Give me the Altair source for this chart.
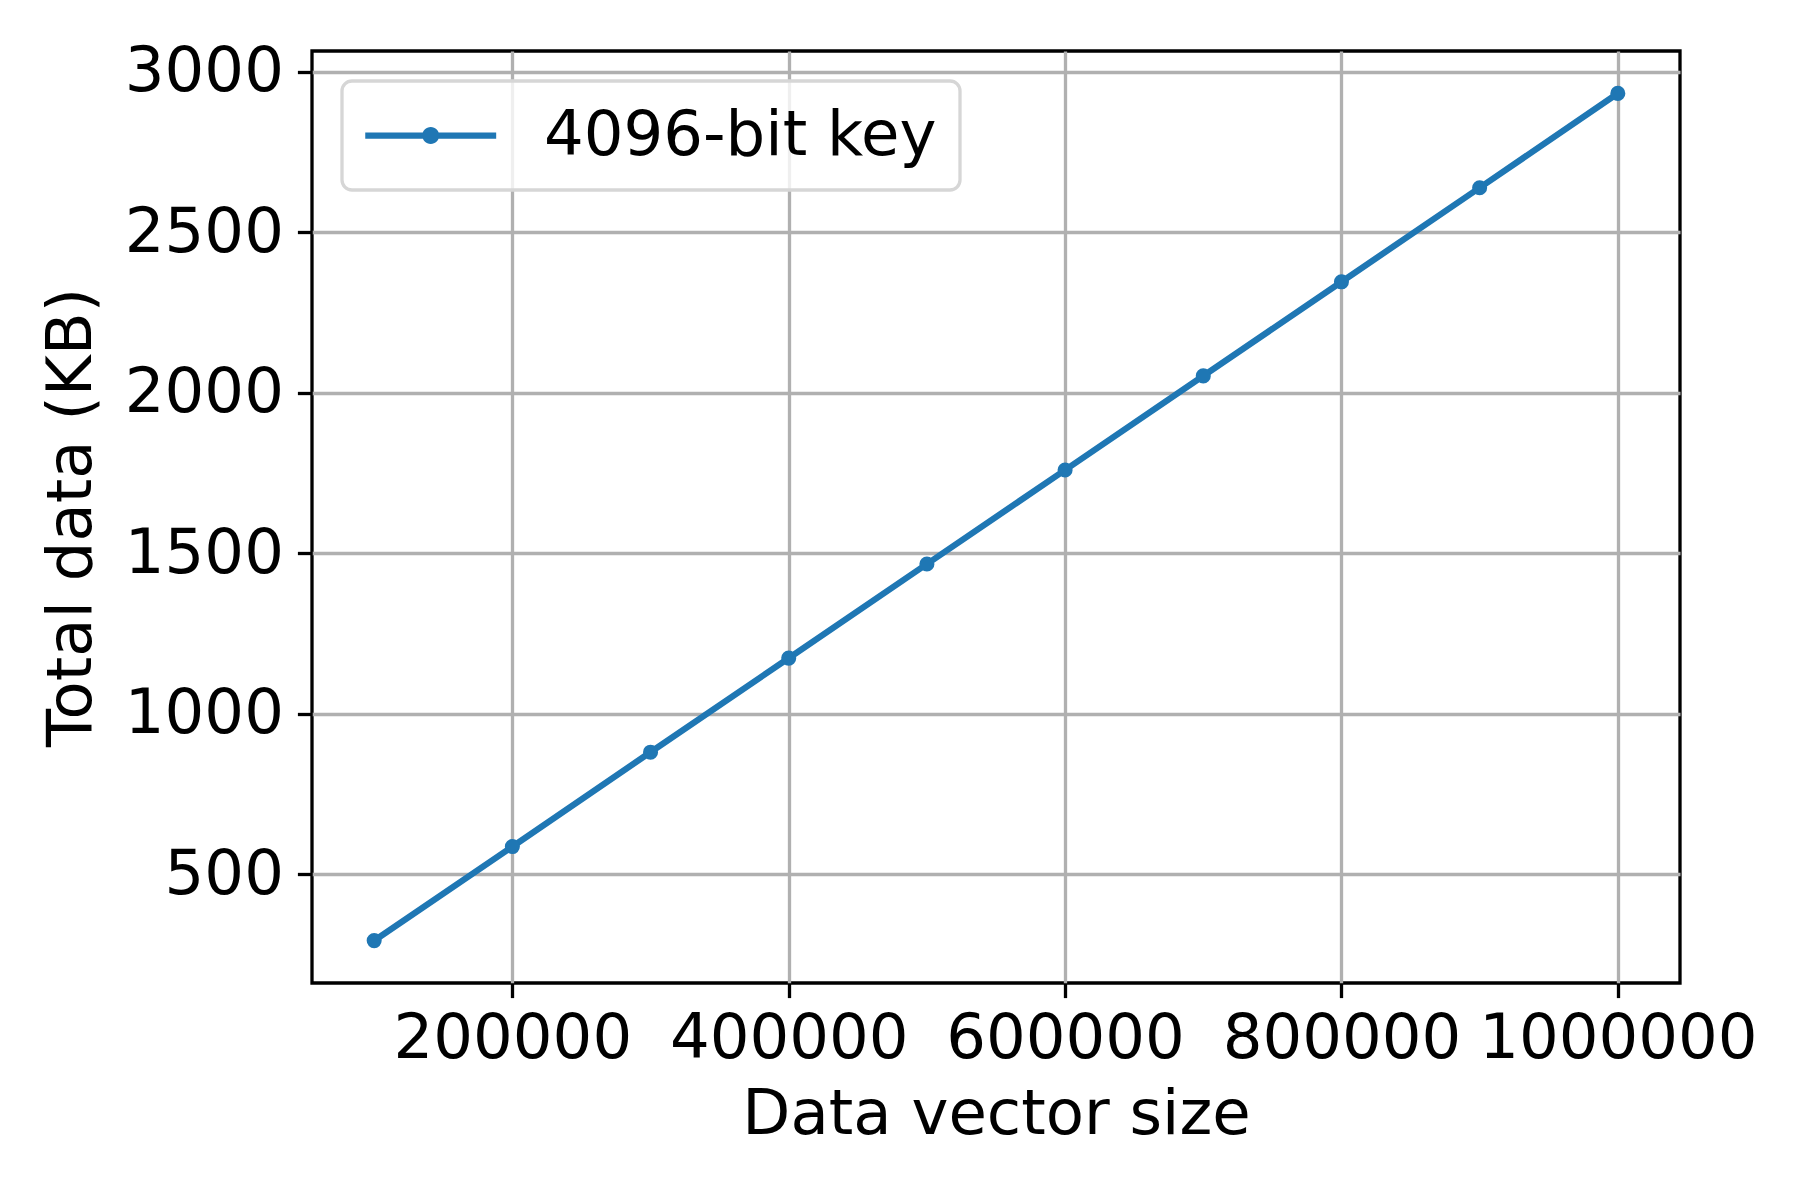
import altair as alt
import pandas as pd

vector_size = [100000, 200000, 300000, 400000, 500000, 600000, 700000, 800000, 900000, 1000000]
total_kb = [293, 586, 880, 1173, 1466, 1759, 2052, 2345, 2638, 2932]
series = ["4096-bit key"] * len(vector_size)

x_ticks = [200000, 400000, 600000, 800000, 1000000]
y_ticks = [500, 1000, 1500, 2000, 2500, 3000]

df = pd.DataFrame({"size": vector_size, "kb": total_kb, "series": series})

BLUE = "#1f77b4"
FONT = "DejaVu Sans"
FS = 62.5

x = alt.X("size:Q", scale=alt.Scale(domain=[55000, 1045000], nice=False, zero=False),
          axis=alt.Axis(values=x_ticks, format="d", title="Data vector size",
                        labelPadding=11, titlePadding=14))
y = alt.Y("kb:Q", scale=alt.Scale(domain=[161, 3064], nice=False, zero=False),
          axis=alt.Axis(values=y_ticks, format="d", title="Total data (KB)",
                        labelPadding=14, titlePadding=21))

line = alt.Chart(df).mark_line(color=BLUE, strokeWidth=6.25).encode(x=x, y=y)

# symbol unit = sqrt(3906)/2 = 31.25 px; path spans 131 px starting at the column's left edge
legend_path = ("M-1,-0.1L3.19,-0.1L3.19,0.1L-1,0.1Z "
               "M0.824,0A0.272,0.272 0 1 1 1.368,0A0.272,0.272 0 1 1 0.824,0Z")

points = alt.Chart(df).mark_point(filled=True, size=227, opacity=1).encode(
    x=x, y=y,
    color=alt.Color("series:N", scale=alt.Scale(range=[BLUE]),
                    legend=alt.Legend(title=None, orient="none", legendX=30, legendY=30,
                                      symbolType=legend_path, symbolSize=3906,
                                      symbolStrokeWidth=0, symbolOpacity=1,
                                      labelFont=FONT, labelFontSize=FS, labelColor="black",
                                      labelOffset=116, padding=23, labelLimit=0,
                                      fillColor="rgba(255,255,255,0.8)",
                                      strokeColor="#d6d6d6")),
)

chart = (line + points).properties(
    width=1368, height=932,
    autosize=alt.AutoSizeParams(type="none"),
    padding={"left": 304, "top": 43, "right": 112, "bottom": 209},
    background="white",
).configure_view(stroke="black", strokeWidth=3.3).configure_axis(
    domain=False,
    grid=True, gridColor="#b0b0b0", gridWidth=3.3,
    tickColor="black", tickWidth=3.3, tickSize=14.6,
    labelFont=FONT, labelFontSize=FS, labelColor="black",
    titleFont=FONT, titleFontSize=FS, titleColor="black", titleFontWeight="normal",
    labelFlush=False, labelOverlap=False, labelLimit=0,
).configure_legend(strokeWidth=3.3, cornerRadius=10)

chart.save("out.html", embed_options={"renderer": "svg", "actions": False})
